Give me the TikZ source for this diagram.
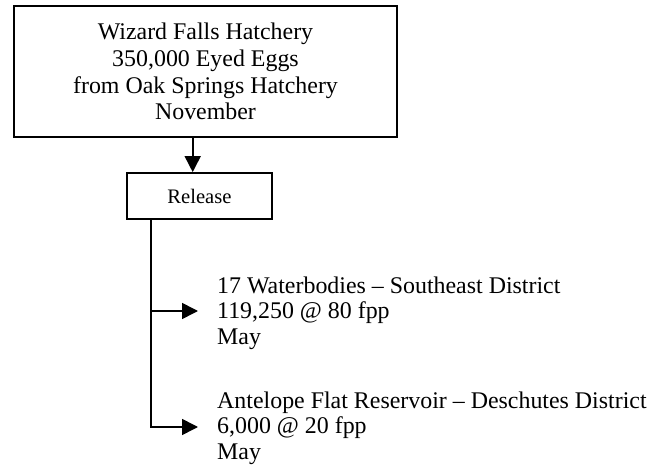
\documentclass[tikz,border=0pt]{standalone}
\usepackage{fontspec}
\setmainfont{Liberation Serif}
\usetikzlibrary{arrows.meta}
\begin{document}
\begin{tikzpicture}[x=1pt,y=-1pt,
  box/.style={draw,line width=1.8pt,inner sep=0pt,align=center},
  conn/.style={line width=1.6pt},
  arr/.style={conn,-{Triangle[length=16pt,width=16pt]}},
  info/.style={anchor=west,align=left,inner xsep=19pt,inner ysep=0pt,
    font=\fontsize{23.9}{25.5}\selectfont}]
  \useasboundingbox (0,0) rectangle (654,473);
  % hatchery box
  \node[box,minimum width=383pt,minimum height=131pt,
    font=\fontsize{23.9}{26.7}\selectfont] (top) at (205.5,71.5)
    {Wizard Falls Hatchery\\350,000 Eyed Eggs\\from Oak Springs Hatchery\\November};
  % release box
  \node[box,minimum width=145pt,minimum height=46pt,
    font=\fontsize{20.6}{24}\selectfont] (rel) at (199.5,196) {Release};
  % destinations
  \node[info] (d1) at (198,313)
    {17 Waterbodies -- Southeast District\\119,250 @ 80 fpp\\May};
  \node[info] (d2) at (198,428)
    {Antelope Flat Reservoir -- Deschutes District\\6,000 @ 20 fpp\\May};
  % connectors
  \draw[arr] ([xshift=-12.8pt]top.south) -- ([xshift=-12.8pt]top.south |- rel.north);
  \coordinate (trunk) at ([xshift=24.7pt]rel.south west);
  \draw[arr] (trunk) |- ([yshift=2pt]d1.west);
  \draw[arr] (trunk) |- ([yshift=1pt]d2.west);
\end{tikzpicture}
\end{document}
